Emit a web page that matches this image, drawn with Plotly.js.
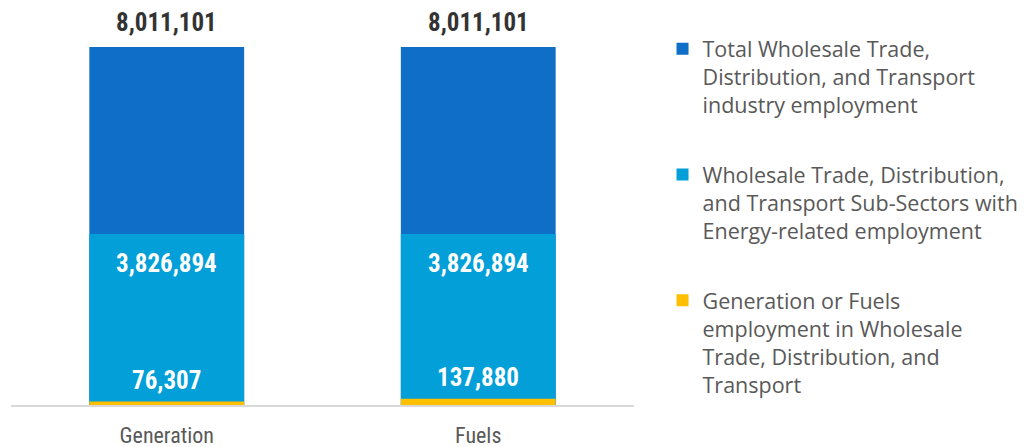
<!DOCTYPE html>
<html><head><meta charset="utf-8">
<script src="https://cdn.plot.ly/plotly-3.0.1.min.js"></script>
<style>body{margin:0;background:#fff}#chart{width:1024px;height:447px}</style>
</head><body><div id="chart"></div>
<script>
const categories = ["Generation", "Fuels"];
const totalEmployment = [8011101, 8011101];
const subSectorEmployment = [3826894, 3826894];
const genFuelsEmployment = [76307, 137880];
const seriesNames = [
  "Total Wholesale Trade,<br>Distribution, and Transport<br>industry employment",
  "Wholesale Trade, Distribution,<br>and Transport Sub-Sectors with<br>Energy-related employment",
  "Generation or Fuels<br>employment in Wholesale<br>Trade, Distribution, and<br>Transport"
];
const colors = ["#0F6EC7", "#039FD9", "#FDBF00"];
const numFont = "'Roboto Condensed', 'Liberation Sans Narrow', Roboto, sans-serif";
const fmt = v => v.toLocaleString("en-US");

const series = [totalEmployment, subSectorEmployment, genFuelsEmployment];
const traces = series.map((vals, i) => ({
  type: "bar", x: categories, y: vals, name: seriesNames[i],
  marker: {color: colors[i], line: {width: 0}},
  legendgroup: "g" + i, hoverinfo: "skip"
}));

const annotations = [];
categories.forEach((c, j) => {
  annotations.push({x: c, y: totalEmployment[j], text: "<b>" + fmt(totalEmployment[j]) + "</b>",
    showarrow: false, yanchor: "bottom", yshift: 8, font: {family: numFont, size: 25, color: "#333333"}});
  annotations.push({x: c, y: subSectorEmployment[j], text: "<b>" + fmt(subSectorEmployment[j]) + "</b>",
    showarrow: false, yanchor: "top", yshift: -13, font: {family: numFont, size: 25, color: "#ffffff"}});
  annotations.push({x: c, y: genFuelsEmployment[j], text: "<b>" + fmt(genFuelsEmployment[j]) + "</b>",
    showarrow: false, yanchor: "bottom", yshift: 5, font: {family: numFont, size: 25, color: "#ffffff"}});
});

const layout = {
  width: 1024, height: 447,
  margin: {l: 11, r: 390, t: 47, b: 42, autoexpand: false},
  paper_bgcolor: "#ffffff", plot_bgcolor: "#ffffff",
  barmode: "overlay", bargap: 0.503,
  showlegend: true,
  legend: {xref: "container", yref: "container", x: 0.647, xanchor: "left", y: 0.937, yanchor: "top", valign: "top",
    font: {family: "'Open Sans', sans-serif", size: 21.5, color: "#595959"},
    tracegroupgap: 39, itemwidth: 30, traceorder: "grouped", maxheight: 447},
  xaxis: {showline: true, linecolor: "#D9D9D9", linewidth: 2, ticks: "", showgrid: false,
    ticklabelstandoff: 10,
    tickfont: {family: numFont, size: 22, color: "#595959"}, fixedrange: true},
  yaxis: {range: [0, 8011101], visible: false, showgrid: false, zeroline: false},
  annotations: annotations
};
Plotly.newPlot("chart", traces, layout, {displayModeBar: false, staticPlot: true});
</script></body></html>
